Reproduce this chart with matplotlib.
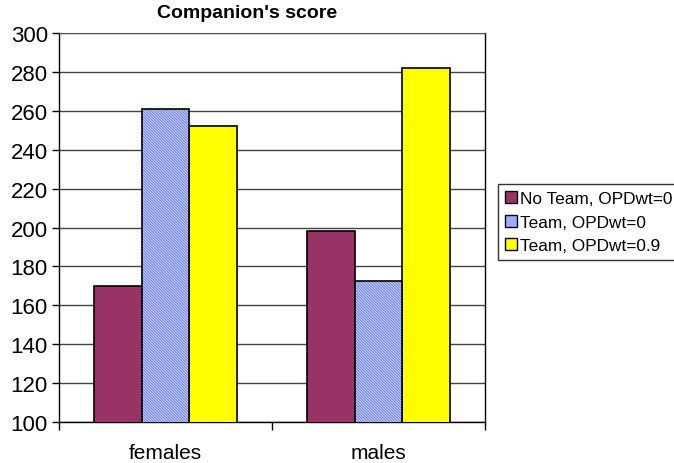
import numpy as np
import matplotlib
matplotlib.use("Agg")
import matplotlib.pyplot as plt
from matplotlib.patches import Patch

plt.rcParams['font.family'] = ['Liberation Sans', 'DejaVu Sans']
plt.rcParams['hatch.linewidth'] = 0.7

groups = ['females', 'males']
series = ['No Team, OPDwt=0', 'Team, OPDwt=0', 'Team, OPDwt=0.9']
no_team = [170, 198]
team = [261, 172.5]
team_09 = [252, 282]
yticks = [100, 120, 140, 160, 180, 200, 220, 240, 260, 280, 300]

fig = plt.figure(figsize=(6.74, 4.64), dpi=100)
ax = fig.add_axes([0.0875, 0.0884, 0.632, 0.838])

x = np.arange(len(groups))
w = 0.224

# solid bars
ax.bar(x - w, no_team, w, color='#993366', edgecolor='black', linewidth=1.2, zorder=3)
ax.bar(x + w, team_09, w, color='#ffff00', edgecolor='black', linewidth=1.2, zorder=3)
# hatched bar: fill + light hatch first, then black outline on top
ax.bar(x, team, w, color='#6a7cff', edgecolor='#d0d8ff', hatch='\\' * 12, linewidth=0, zorder=3)
ax.bar(x, team, w, fill=False, edgecolor='black', linewidth=1.2, zorder=4)

ax.set_ylim(100, 300)
ax.set_xlim(-0.5, len(groups) - 0.5)
ax.set_yticks(yticks)
ax.tick_params(axis='y', labelsize=16, length=5, width=1, pad=3)
ax.set_xticks(x)
ax.set_xticklabels(groups)
ax.tick_params(axis='x', labelsize=15, length=0, pad=15)
ax.set_xticks(np.arange(len(groups) + 1) - 0.5, minor=True)
ax.tick_params(axis='x', which='minor', length=6, width=1)
ax.grid(axis='y', color='#444444', linewidth=1, zorder=0)
ax.set_axisbelow(True)
for s in ['left', 'bottom', 'right']:
    ax.spines[s].set_color('black')
    ax.spines[s].set_linewidth(1)
ax.spines['top'].set_color('#555555')

fig.text(0.366, 1 - 14 / 464, "Companion's score", ha='center', va='center',
         fontsize=14, fontweight='bold')

handles = [
    Patch(facecolor='#993366', edgecolor='black', linewidth=1),
    Patch(facecolor='#a0abff', edgecolor='black', linewidth=1),
    Patch(facecolor='#ffff00', edgecolor='black', linewidth=1),
]
leg = fig.legend(handles, series, loc='upper left', bbox_to_anchor=(0.739, 0.601),
                 bbox_transform=fig.transFigure, fontsize=12.4, frameon=True,
                 fancybox=False, handlelength=0.7, handleheight=0.7,
                 handletextpad=0.2, labelspacing=0.5, borderpad=0.4,
                 borderaxespad=0)
leg.get_frame().set_edgecolor('black')
leg.get_frame().set_linewidth(1)

fig.savefig('out.png', dpi=100)
